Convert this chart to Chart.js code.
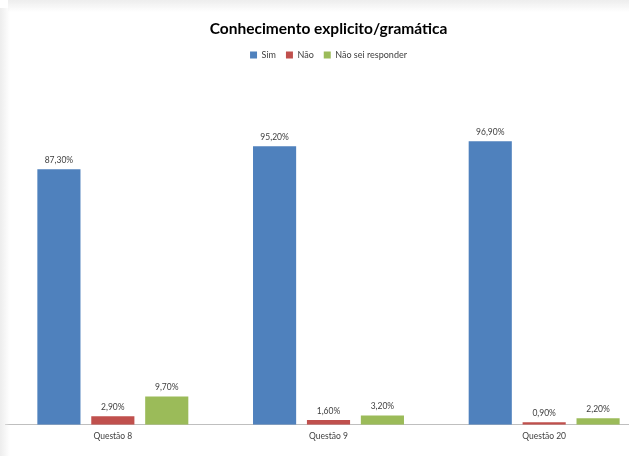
<!DOCTYPE html>
<html>
<head>
<meta charset="utf-8">
<script src="https://cdn.jsdelivr.net/npm/chart.js@4/dist/chart.umd.min.js"></script>
<style>
  html, body { margin: 0; padding: 0; background: #fff; overflow: hidden; }
  #frame { position: relative; width: 629px; height: 459px; overflow: hidden; background: #fff; }
  #chart { position: absolute; left: 0; top: 0; }
  .shade-top { position: absolute; left: 8px; top: 0; width: 621px; height: 12px;
    background: linear-gradient(to bottom, #ededed, rgba(255,255,255,0)); }
  .shade-left { position: absolute; left: 0; top: 8px; width: 10px; height: 448px;
    background: linear-gradient(to right, #ededed, rgba(255,255,255,0)); }
</style>
</head>
<body>
<div id="frame">
  <canvas id="chart" width="657" height="459"></canvas>
  <div class="shade-top"></div>
  <div class="shade-left"></div>
</div>
<script>
// Survey answers per question, in percent
const categories = ['Questão 8', 'Questão 9', 'Questão 20'];
const seriesNames = ['Sim', 'Não', 'Não sei responder'];
const simValues = [87.3, 95.2, 96.9];
const naoValues = [2.9, 1.6, 0.9];
const naoSeiValues = [9.7, 3.2, 2.2];
const seriesColors = ['#4F81BD', '#C0504D', '#9BBB59'];

const FONT = 'Lato, "Open Sans", sans-serif';

const fmtPct = v => v.toFixed(2).replace('.', ',') + '%';

// Value labels above each bar
const valueLabels = {
  id: 'valueLabels',
  afterDatasetsDraw(chart) {
    const ctx = chart.ctx;
    ctx.save();
    ctx.font = '8.5px ' + FONT;
    ctx.fillStyle = '#404040';
    ctx.textAlign = 'center';
    ctx.textBaseline = 'middle';
    chart.data.datasets.forEach((ds, i) => {
      chart.getDatasetMeta(i).data.forEach((bar, j) => {
        ctx.fillText(fmtPct(ds.data[j]), bar.x, bar.y - 9);
      });
    });
    ctx.restore();
  }
};

// Extra space between the legend and the plot area
const legendGap = {
  id: 'legendGap',
  beforeInit(chart) {
    const legend = chart.legend;
    if (!legend) return;
    const origFit = legend.fit;
    legend.fit = function () {
      origFit.call(this);
      this.height += 4;
    };
  }
};

new Chart(document.getElementById('chart'), {
  type: 'bar',
  data: {
    labels: categories,
    datasets: [simValues, naoValues, naoSeiValues].map((vals, i) => ({
      label: seriesNames[i],
      data: vals,
      backgroundColor: seriesColors[i],
      borderWidth: 0,
      barPercentage: 0.8,
      categoryPercentage: 0.75
    }))
  },
  options: {
    responsive: false,
    animation: false,
    layout: { padding: { left: 5, right: 5, top: 0, bottom: 12 } },
    plugins: {
      title: {
        display: true,
        text: 'Conhecimento explicito/gramática',
        color: '#000',
        font: { family: FONT, size: 15.5, weight: 'bold' },
        padding: { top: 20, bottom: 2 }
      },
      legend: {
        display: true,
        position: 'top',
        labels: {
          color: '#404040',
          font: { family: FONT, size: 9 },
          boxWidth: 7,
          boxHeight: 7,
          padding: 10
        }
      },
      tooltip: { enabled: false }
    },
    scales: {
      x: {
        grid: { display: false, drawTicks: false },
        border: { display: true, color: '#bfbfbf', width: 1 },
        ticks: { color: '#404040', font: { family: FONT, size: 8.5 }, padding: 6 }
      },
      y: {
        display: false,
        min: 0,
        max: 120
      }
    }
  },
  plugins: [valueLabels, legendGap]
});
</script>
</body>
</html>
